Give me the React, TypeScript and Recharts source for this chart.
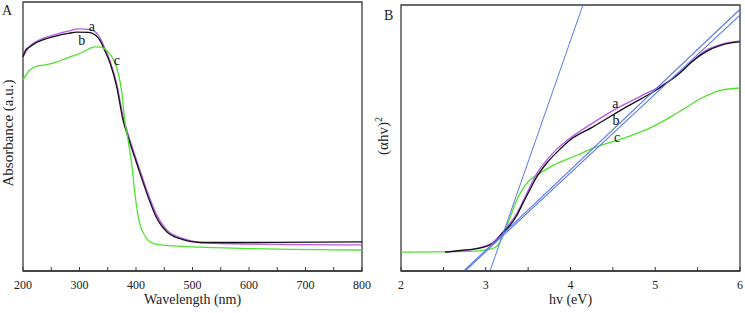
import React from "react";
import { LineChart, Line, XAxis, YAxis, ReferenceArea, ReferenceDot, Label } from "recharts";

const serif = "Liberation Serif, Times New Roman, serif";

// Panel A: UV-vis absorbance, [wavelength nm, absorbance a.u.]
const absA = [
  [200, 0.796], [212, 0.836], [225, 0.855], [260, 0.881], [280, 0.892], [300, 0.9], [316, 0.898],
  [328, 0.889], [336, 0.868], [344, 0.832], [354, 0.781], [366, 0.695], [377, 0.576], [386, 0.509],
  [395, 0.45], [407, 0.375], [419, 0.301], [435, 0.216], [455, 0.152], [483, 0.121], [513, 0.106],
  [600, 0.1], [800, 0.097],
];
const absB = [
  [200, 0.796], [205, 0.822], [212, 0.833], [225, 0.851], [235, 0.859], [260, 0.874], [280, 0.883],
  [295, 0.888], [316, 0.887], [328, 0.877], [336, 0.858], [344, 0.823], [354, 0.773], [366, 0.684],
  [377, 0.561], [386, 0.498], [395, 0.439], [407, 0.364], [419, 0.29], [435, 0.204], [455, 0.145],
  [483, 0.117], [513, 0.106], [600, 0.106], [800, 0.108],
];
const absC = [
  [200, 0.71], [212, 0.747], [225, 0.762], [240, 0.766], [260, 0.777], [278, 0.792], [306, 0.814],
  [318, 0.827], [328, 0.833], [338, 0.832], [347, 0.822], [356, 0.8], [366, 0.755], [375, 0.662],
  [380, 0.561], [386, 0.487], [393, 0.387], [398, 0.29], [405, 0.19], [415, 0.134], [425, 0.108],
  [442, 0.097], [513, 0.089], [800, 0.078],
];

// Panel B: Tauc plot, [hv eV, (ahv)^2 a.u.]
const taucA = [
  [2.52, 0.071], [2.93, 0.088], [3.09, 0.109], [3.2, 0.147], [3.37, 0.218], [3.52, 0.316], [3.6, 0.365],
  [3.72, 0.417], [3.84, 0.459], [3.98, 0.496], [4.26, 0.556], [4.51, 0.605], [4.86, 0.662], [5.1, 0.702],
  [5.27, 0.74], [5.45, 0.793], [5.59, 0.828], [5.79, 0.853], [6.0, 0.865],
];
const taucB = [
  [2.52, 0.071], [2.7, 0.077], [2.93, 0.086], [3.09, 0.105], [3.2, 0.143], [3.29, 0.173], [3.37, 0.211],
  [3.44, 0.256], [3.52, 0.305], [3.6, 0.353], [3.72, 0.406], [3.84, 0.447], [3.98, 0.489], [4.26, 0.541],
  [4.66, 0.617], [5.05, 0.688], [5.29, 0.744], [5.43, 0.786], [5.59, 0.823], [5.79, 0.85], [6.0, 0.861],
];
const taucC = [
  [2.0, 0.071], [2.88, 0.075], [3.04, 0.081], [3.12, 0.09], [3.19, 0.124], [3.22, 0.147], [3.29, 0.203],
  [3.35, 0.256], [3.43, 0.305], [3.52, 0.342], [3.64, 0.368], [3.8, 0.398], [4.08, 0.436], [4.27, 0.462],
  [4.67, 0.504], [4.94, 0.538], [5.26, 0.594], [5.57, 0.654], [5.78, 0.68], [6.0, 0.688],
];
// tangent lines
const fit1 = [[3.05, 0], [4.147, 1.0]];
const fit2 = [[2.74, 0], [6.0, 0.984]];
const fit3 = [[2.755, 0], [6.0, 0.962]];

const wlTicks = [200, 250, 300, 350, 400, 450, 500, 550, 600, 650, 700, 750, 800];
const evTicks = [2, 2.5, 3, 3.5, 4, 4.5, 5, 5.5, 6];

const notesA = [["a", 322, 0.909], ["b", 304, 0.859], ["c", 366, 0.784]];
const notesB = [["a", 4.53, 0.633], ["b", 4.537, 0.568], ["c", 4.549, 0.504]];

const rows = (pts: number[][]) => pts.map(([x, y]) => ({ x, y }));

const PURPLE = "#bb55ee";
const BLACK = "#111111";
const GREEN = "#4fe22c";
const BLUE = "#5a78f0";
const FRAME = "#3a3a3a";

const tickStyle = { fontSize: 12, fill: "#222", fontFamily: serif, style: { fontFamily: serif } };

function Panel({ width, margin, domain, ticks, title, series, notes }: any) {
  return (
    <LineChart width={width} height={313} margin={margin} style={{ fontFamily: serif }}>
      <XAxis
        type="number"
        dataKey="x"
        domain={domain}
        ticks={ticks}
        interval={0}
        height={42}
        tickSize={-4}
        tickMargin={13}
        tick={tickStyle}
        tickFormatter={(v: number) => (Number.isInteger(v) && (domain[0] < 100 || v % 100 === 0) ? String(v) : "")}
        axisLine={{ stroke: FRAME, strokeWidth: 1.3 }}
        tickLine={{ stroke: FRAME }}
      >
        <Label
          value={title}
          position="insideBottom"
          offset={9}
          fontSize={14}
          fontFamily={serif}
          fill="#222"
          style={{ fontFamily: serif }}
        />
      </XAxis>
      <YAxis hide type="number" domain={[0, 1]} />
      <ReferenceArea x1={domain[0]} x2={domain[1]} y1={0} y2={1} fill="none" stroke={FRAME} strokeWidth={1.3} />
      {series.map((s: any, i: number) => (
        <Line
          key={i}
          data={rows(s.pts)}
          dataKey="y"
          type={s.linear ? "linear" : "monotone"}
          stroke={s.color}
          strokeWidth={s.w || 1.3}
          dot={false}
          activeDot={false}
          isAnimationActive={false}
        />
      ))}
      {notes.map(([t, x, y]: any) => (
        <ReferenceDot
          key={t}
          x={x}
          y={y}
          r={0}
          fill="none"
          stroke="none"
          label={{ value: t, position: "center", fontSize: 14, fontFamily: serif, fill: "#111", style: { fontFamily: serif } }}
        />
      ))}
    </LineChart>
  );
}

const overlay = (style: React.CSSProperties): React.CSSProperties => ({
  position: "absolute",
  fontFamily: serif,
  color: "#222",
  lineHeight: 1,
  whiteSpace: "nowrap",
  ...style,
});

export default function App() {
  return (
    <div style={{ position: "absolute", left: 0, top: 0, width: 745, height: 313, background: "#fff", fontFamily: serif }}>
      <div style={{ position: "absolute", left: 0, top: 0 }}>
        <Panel
          width={372}
          margin={{ top: 2, right: 10, bottom: 0, left: 23 }}
          domain={[200, 800]}
          ticks={wlTicks}
          title="Wavelength (nm)"
          series={[
            { pts: absA, color: PURPLE },
            { pts: absB, color: BLACK },
            { pts: absC, color: GREEN },
          ]}
          notes={notesA}
        />
      </div>
      <div style={{ position: "absolute", left: 372, top: 0 }}>
        <Panel
          width={373}
          margin={{ top: 5, right: 5, bottom: 0, left: 29 }}
          domain={[2, 6]}
          ticks={evTicks}
          title="hv (eV)"
          series={[
            { pts: taucC, color: GREEN },
            { pts: taucA, color: PURPLE },
            { pts: taucB, color: BLACK },
            { pts: fit1, color: BLUE, linear: true, w: 1 },
            { pts: fit2, color: BLUE, linear: true, w: 1.1 },
            { pts: fit3, color: BLUE, linear: true, w: 1.1 },
          ]}
          notes={notesB}
        />
      </div>
      <div style={overlay({ left: 2, top: 4, fontSize: 14 })}>A</div>
      <div style={overlay({ left: 384, top: 9, fontSize: 14 })}>B</div>
      <div
        style={overlay({
          left: 8,
          top: 133,
          fontSize: 15,
          transform: "translate(-50%, -50%) rotate(-90deg)",
        })}
      >
        Absorbance (a.u.)
      </div>
      <div
        style={overlay({
          left: 382,
          top: 136,
          fontSize: 15,
          transform: "translate(-50%, -50%) rotate(-90deg)",
        })}
      >
        (αhv)<sup style={{ fontSize: 10 }}>2</sup>
      </div>
    </div>
  );
}
